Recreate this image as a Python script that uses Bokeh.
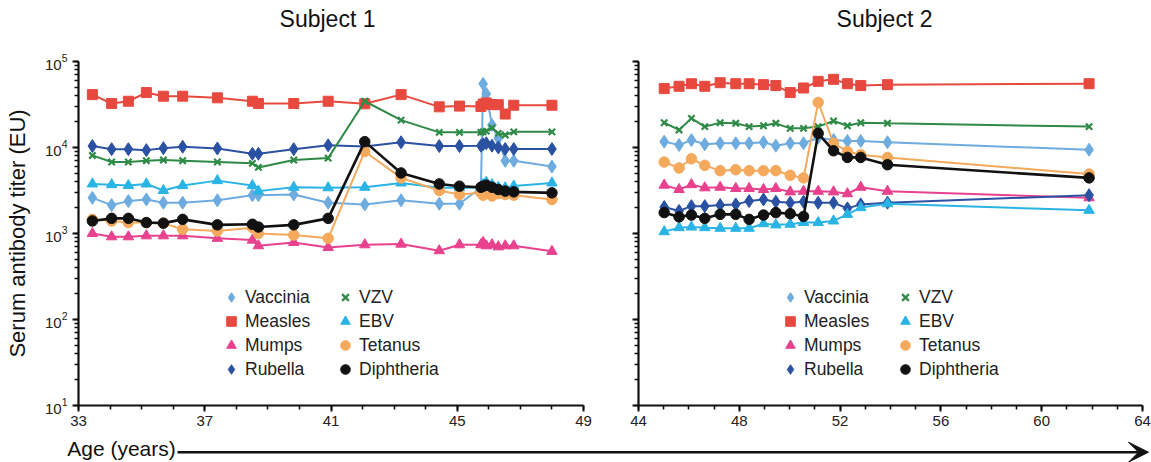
from bokeh.plotting import figure
from bokeh.models import Range1d, FixedTicker, Legend, LegendItem, Arrow, VeeHead, Label, LogTicker
from bokeh.layouts import column, row
from bokeh.embed import file_html
from bokeh.resources import INLINE

FONT = "Liberation Sans"

# ---------------- data ----------------
series = ["Vaccinia", "Measles", "Mumps", "Rubella", "VZV", "EBV", "Tetanus", "Diphtheria"]

# Subject 1 (age in years)
age1 = [33.44, 34.05, 34.58, 35.15, 35.69, 36.30, 37.40, 38.51, 38.70, 39.82, 40.91, 42.07,
        43.22, 44.43, 45.07, 45.75, 45.82, 45.92, 46.10, 46.30, 46.52, 46.79, 48.0]
vaccinia1 = [2600, 2140, 2380, 2490, 2280, 2280, 2430, 2790, 2790, 2840, 2280, 2180,
             2430, 2220, 2220, 3400, 55000, 42000, 18300, 12800, 7000, 7000, 6000]
measles1 = [41200, 32500, 34500, 43500, 39500, 39500, 37800, 34500, 32500, 32500, 34500, 32200,
            41200, 29700, 30300, 30000, 32000, 33000, 31500, 31500, 24500, 31000, 31000]
mumps1 = [1000, 916, 916, 940, 940, 940, 880, 838, 721, 788, 689, 740,
          753, 631, 740, 740, 788, 720, 740, 700, 720, 720, 620]
rubella1 = [10400, 9570, 9570, 9320, 9830, 10200, 9750, 8450, 8450, 9570, 10600, 10300,
            11500, 10400, 10400, 10500, 10900, 11200, 10500, 10000, 9600, 9600, 9600]
vzv1 = [8090, 6780, 6780, 7020, 7150, 7020, 6780, 6540, 5870, 7150, 7530, 34500,
        20800, 15000, 15000, 15000, 15200, 15500, 16900, 14600, 14000, 15200, 15200]
ebv1 = [3770, 3700, 3610, 3770, 3160, 3610, 4120, 3610, 3110, 3450, 3400, 3450,
        3870, 3400, 3400, 3400, 3700, 3950, 3700, 3450, 3400, 3560, 3870]
tetanus1 = [1460, 1400, 1340, 1340, 1310, 1120, 1070, 1170, 1000, 960, 880, 9000,
            4430, 3160, 2840, 2970, 2790, 2970, 2730, 2900, 2840, 2790, 2490]
diphtheria1 = [1400, 1500, 1500, 1340, 1320, 1460, 1260, 1280, 1190, 1260, 1500, 11700,
               5060, 3770, 3550, 3450, 3550, 3650, 3450, 3250, 3110, 3050, 2970]

# Subject 2
age2 = [45.02, 45.61, 46.10, 46.63, 47.24, 47.86, 48.39, 48.96, 49.45, 50.02, 50.55, 51.13,
        51.74, 52.29, 52.82, 53.88, 61.88]
vaccinia2 = [11700, 10700, 12200, 10900, 11200, 11200, 11200, 11500, 10500, 11200, 11200, 13000,
             12200, 11900, 11900, 11500, 9400]
measles2 = [48400, 51500, 55200, 51500, 56700, 55200, 55200, 53800, 52500, 43500, 49200, 58800,
            62000, 55200, 52500, 53800, 55200]
mumps2 = [3650, 3250, 3700, 3400, 3450, 3340, 3340, 3250, 3340, 3050, 3100, 3100,
          3050, 2900, 3450, 3100, 2600]
rubella2 = [2030, 1830, 2080, 2080, 2140, 2180, 2380, 2490, 2340, 2280, 2340, 2280,
            2280, 1960, 2180, 2280, 2790]
vzv2 = [19400, 16000, 21800, 17500, 19400, 19100, 17500, 17900, 19100, 16700, 16700, 17500,
        20300, 17900, 19400, 19100, 17500]
ebv2 = [1050, 1170, 1190, 1170, 1150, 1150, 1150, 1300, 1260, 1280, 1340, 1340,
        1400, 1670, 2000, 2220, 1860]
tetanus2 = [6780, 5780, 7400, 6200, 5380, 5520, 5380, 5380, 5380, 4750, 4430, 33400,
            11200, 9000, 8230, 7670, 4920]
diphtheria2 = [1750, 1560, 1640, 1500, 1670, 1670, 1460, 1640, 1750, 1700, 1580, 14600,
               9160, 7670, 7670, 6310, 4430]

xticks1 = [33, 37, 41, 45, 49]
xticks2 = [44, 48, 52, 56, 60, 64]
titles = ["Subject 1", "Subject 2"]
y_label = "Serum antibody titer (EU)"
x_label = "Age (years)"

# ---------------- styles / layout ----------------
colors = {"Vaccinia": "#6EABDE", "Measles": "#E8493F", "Mumps": "#E8418E", "Rubella": "#2B51A3",
          "VZV": "#2E8A46", "EBV": "#2AB4E6", "Tetanus": "#F4A95C", "Diphtheria": "#111111"}
markers = {"Vaccinia": "diamond", "Measles": "square", "Mumps": "triangle", "Rubella": "diamond",
           "VZV": "x", "EBV": "triangle", "Tetanus": "circle", "Diphtheria": "circle"}
msize = {"diamond": 13, "square": 10, "triangle": 10.5, "x": 9, "circle": 10.5}

W = 1151
H_TOP = 40          # title strip
H12 = 391           # panels
H_BOT = 462 - H_TOP - H12   # x label / arrow strip


def strip(h):
    s = figure(width=W, height=h, x_range=Range1d(0, W), y_range=Range1d(0, h),
               output_backend="svg", toolbar_location=None, min_border=0,
               x_axis_location=None, y_axis_location=None)
    s.outline_line_color = None
    s.xgrid.visible = False
    s.ygrid.visible = False
    return s


def panel(ages, values, xr, xticks, width, left, right, show_ylabels, leg_a, leg_b):
    p = figure(width=width, height=H12, x_range=Range1d(*xr), y_range=Range1d(10, 1e5),
               y_axis_type="log", output_backend="svg", toolbar_location=None,
               min_border_left=left, min_border_right=right, min_border_top=21,
               min_border_bottom=26)
    p.outline_line_color = None
    p.xgrid.visible = False
    p.ygrid.visible = False

    xa = p.xaxis[0]
    xa.ticker = FixedTicker(ticks=xticks, minor_ticks=list(range(int(xr[0]), int(xr[1]) + 1)))
    ya = p.yaxis[0]
    ya.ticker = LogTicker(num_minor_ticks=10)
    for ax in (xa, ya):
        ax.axis_line_width = 2.2
        ax.axis_line_color = "#111111"
        ax.major_tick_line_width = 2
        ax.minor_tick_line_width = 1.6
        ax.major_tick_line_color = "#111111"
        ax.minor_tick_line_color = "#111111"
        ax.major_tick_in = 0
        ax.minor_tick_in = 0
        ax.major_tick_out = 6
        ax.minor_tick_out = 4
        ax.major_label_text_font = FONT
        ax.major_label_text_font_size = "15px"
        ax.major_label_text_color = "#222222"
    xa.major_label_standoff = 4
    ya.major_label_standoff = 5
    if show_ylabels:
        ya.axis_label = y_label
        ya.axis_label_text_font = FONT
        ya.axis_label_text_font_size = "22px"
        ya.axis_label_text_font_style = "normal"
        ya.axis_label_text_color = "#111111"
        ya.axis_label_standoff = 12
    else:
        ya.major_label_text_font_size = "2px"
        ya.major_label_text_color = None
        ya.major_label_standoff = 0

    items = {}
    for name in series:
        vals = values[name]
        col = colors[name]
        p.line(ages, vals, line_color=col, line_width=2.6 if name == "Diphtheria" else 2)
        m = markers[name]
        if m == "x":
            r = p.scatter(ages, vals, marker="x", size=msize[m], line_color=col, line_width=2.2)
        else:
            r = p.scatter(ages, vals, marker=m, size=msize[m], fill_color=col, line_color=col)
        items[name] = r

    for names, loc in ((series[:4], leg_a), (series[4:], leg_b)):
        lg = Legend(items=[LegendItem(label=n, renderers=[items[n]]) for n in names],
                    location=loc, orientation="vertical", padding=0, spacing=0, margin=0,
                    glyph_width=24, glyph_height=24, label_height=24, label_standoff=2,
                    background_fill_alpha=0, border_line_alpha=0,
                    label_text_font=FONT, label_text_font_size="17.5px",
                    label_text_color="#222222")
        p.add_layout(lg)
    return p


vals1 = dict(zip(series, [vaccinia1, measles1, mumps1, rubella1, vzv1, ebv1, tetanus1, diphtheria1]))
vals2 = dict(zip(series, [vaccinia2, measles2, mumps2, rubella2, vzv2, ebv2, tetanus2, diphtheria2]))

p1 = panel(age1, vals1, (33, 49), xticks1, 610, 78, 27, True, (141, 24), (255, 24))
p2 = panel(age2, vals2, (44, 64), xticks2, W - 610, 28, 9, False, (140, 24), (255, 24))

top = strip(H_TOP)
for t, cx in zip(titles, [327, 884]):
    top.add_layout(Label(x=cx, y=H_TOP - 18.5, text=t, text_font=FONT, text_font_size="23px",
                         text_align="center", text_baseline="middle", text_color="#111111"))

bot = strip(H_BOT)
bot.add_layout(Label(x=66.7, y=H_BOT - (447.5 - H_TOP - H12), text=x_label, text_font=FONT,
                     text_font_size="21px", text_baseline="middle", text_color="#111111"))
ay = H_BOT - (451.7 - H_TOP - H12)
bot.add_layout(Arrow(end=VeeHead(size=20, fill_color="#111111", line_color="#111111"),
                     x_start=177, y_start=ay, x_end=1148, y_end=ay,
                     line_width=2.6, line_color="#111111"))

layout = column(top, row(p1, p2, spacing=0), bot, spacing=0)
open("out.html", "w").write(file_html(layout, INLINE))
